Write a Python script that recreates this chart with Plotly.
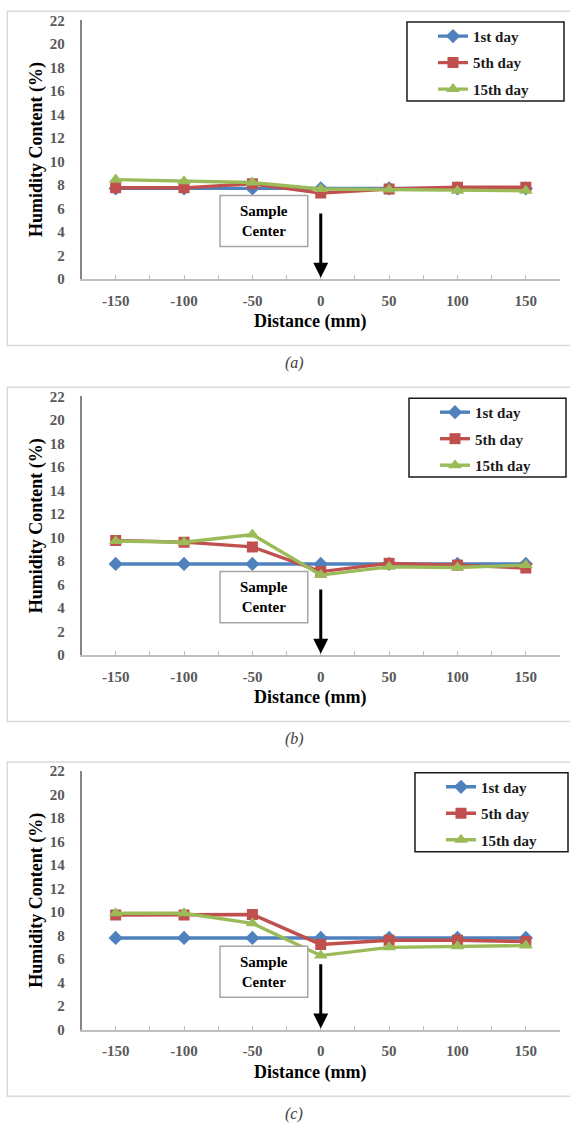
import plotly.graph_objects as go

# ---------------- data ----------------
distance = [-150, -100, -50, 0, 50, 100, 150]
series_names = ["1st day", "5th day", "15th day"]
panel_labels = ["(a)", "(b)", "(c)"]

a_day1 = [7.7, 7.7, 7.7, 7.7, 7.7, 7.7, 7.7]
a_day5 = [7.75, 7.75, 8.1, 7.3, 7.65, 7.8, 7.8]
a_day15 = [8.45, 8.3, 8.2, 7.65, 7.6, 7.5, 7.5]

b_day1 = [7.75, 7.75, 7.75, 7.75, 7.75, 7.75, 7.75]
b_day5 = [9.75, 9.6, 9.2, 7.1, 7.8, 7.65, 7.4]
b_day15 = [9.7, 9.6, 10.25, 6.8, 7.5, 7.45, 7.65]

c_day1 = [7.8, 7.8, 7.8, 7.8, 7.8, 7.8, 7.8]
c_day5 = [9.75, 9.75, 9.8, 7.25, 7.6, 7.6, 7.5]
c_day15 = [9.9, 9.9, 9.05, 6.3, 7.0, 7.1, 7.15]

y_ticks = list(range(0, 23, 2))
x_ticks = [-150, -100, -50, 0, 50, 100, 150]
x_ticktext = ["-150", "-100", "-50", "0", "50", "100", "150"]

panels = [
    [a_day1, a_day5, a_day15],
    [b_day1, b_day5, b_day15],
    [c_day1, c_day5, c_day15],
]

# ---------------- styling ----------------
W, H = 570, 1131
FONT = "Liberation Serif"
colors = ["#4F81BD", "#C0504D", "#9BBB59"]
symbols = ["diamond", "square", "triangle-up"]
msizes = [11, 11, 12]


def xp(px):
    return px / W


def yp(py):
    return 1 - py / H


# pixel geometry of each panel
panel_off = [0.0, 381.5, 761.5]
AX_TOP, AX_BOT = 12.5, 274.8
X_LEFT, X_RIGHT = 81.5, 560.0
legend_dx = [0, 2, 8]

fig = go.Figure()

for i, series in enumerate(panels):
    sfx = "" if i == 0 else str(i + 1)
    leg = "legend" + sfx
    for j, vals in enumerate(series):
        fig.add_trace(go.Scatter(
            x=distance, y=vals, name=series_names[j],
            mode="lines+markers",
            line=dict(color=colors[j], width=3.4),
            marker=dict(symbol=symbols[j], size=msizes[j], color=colors[j]),
            xaxis="x" + sfx, yaxis="y" + sfx,
            legend=leg, legendgroup=f"{i}-{j}",
        ))

shapes = []
annotations = []
for i in range(3):
    off = panel_off[i]
    sfx = "" if i == 0 else str(i + 1)
    top = off + AX_TOP
    bot = off + AX_BOT
    xa = dict(
        domain=[xp(X_LEFT), xp(X_RIGHT)],
        range=[-175, 175],
        anchor="y" + sfx,
        tickmode="array", tickvals=x_ticks, ticktext=x_ticktext,
        ticks="inside", ticklen=4, tickcolor="#bfbfbf", tickwidth=1,
        minor=dict(tickmode="array", tickvals=[-175, -125, -75, -25, 25, 75, 125, 175],
                   ticks="inside", ticklen=4, tickcolor="#bfbfbf", tickwidth=1),
        showline=True, linecolor="#bfbfbf", linewidth=1.5,
        showgrid=False, zeroline=False,
        tickfont=dict(family=FONT, size=15, color="#595959", weight="bold"),
        ticklabelstandoff=7,
        fixedrange=True,
    )
    ya = dict(
        domain=[yp(bot), yp(top)],
        range=[0, 22],
        anchor="x" + sfx,
        tickmode="array", tickvals=y_ticks,
        ticks="",
        showline=True, linecolor="#868686", linewidth=1.5,
        showgrid=False, zeroline=False,
        tickfont=dict(family=FONT, size=15, color="#595959", weight="bold"),
        ticklabelstandoff=12,
        title=dict(text="Humidity Content (%)", standoff=2,
                   font=dict(family=FONT, size=18, color="black", weight="bold")),
        fixedrange=True,
    )
    fig.update_layout({"xaxis" + sfx: xa, "yaxis" + sfx: ya})

    # x-axis title
    annotations.append(dict(
        text="<b>Distance (mm)</b>", xref="paper", yref="paper",
        x=xp(310), y=yp(off + 318.3), showarrow=False,
        xanchor="center", yanchor="middle",
        font=dict(family=FONT, size=18, color="black"),
    ))
    # panel frame
    shapes.append(dict(type="rect", xref="paper", yref="paper",
                       x0=xp(7.3), x1=xp(590), y0=yp(off + 3.3), y1=yp(off + 342.3),
                       line=dict(color="#d9d9d9", width=1.5), fillcolor="rgba(0,0,0,0)",
                       layer="below"))
    # legend border
    dx = legend_dx[i]
    shapes.append(dict(type="rect", xref="paper", yref="paper",
                       x0=xp(407 + dx), x1=xp(564 + min(dx, 4)), y0=yp(off + 14.3), y1=yp(off + 94.3),
                       line=dict(color="#1a1a1a", width=1.5), fillcolor="rgba(0,0,0,0)"))
    # Sample center box
    shapes.append(dict(type="rect", xref="x" + sfx, yref="y" + sfx,
                       x0=-73.7, x1=-9.5, y0=2.75, y1=7.1,
                       line=dict(color="#a6a6a6", width=1.5), fillcolor="white",
                       layer="above"))
    annotations.append(dict(
        text="<b>Sample<br>Center</b>", xref="x" + sfx, yref="y" + sfx,
        x=-41.6, y=4.93, showarrow=False, xanchor="center", yanchor="middle",
        font=dict(family=FONT, size=15, color="black"),
    ))
    # arrow to sample center
    annotations.append(dict(
        text="", xref="x" + sfx, yref="y" + sfx, x=0, y=0.1,
        axref="x" + sfx, ayref="y" + sfx, ax=0, ay=5.7,
        showarrow=True, arrowhead=2, arrowsize=1, arrowwidth=3,
        arrowcolor="black", standoff=0,
    ))
    # caption
    annotations.append(dict(
        text="<i>" + panel_labels[i] + "</i>", xref="paper", yref="paper",
        x=xp(294), y=yp(off + 360), showarrow=False,
        xanchor="center", yanchor="middle",
        font=dict(family=FONT, size=16, color="#404040"),
    ))
    # legend
    fig.update_layout({("legend" + sfx): dict(
        x=xp(433 + dx), y=yp(off + 12), xanchor="left", yanchor="top",
        bgcolor="rgba(0,0,0,0)", borderwidth=0,
        traceorder="grouped", tracegroupgap=4,
        font=dict(family=FONT, size=15, color="#1a1a1a", weight="bold"),
        itemclick=False, itemdoubleclick=False,
    )})

fig.update_layout(
    width=W, height=H,
    margin=dict(l=0, r=0, t=0, b=0),
    paper_bgcolor="white", plot_bgcolor="white",
    shapes=shapes, annotations=annotations,
    showlegend=True,
)

fig.write_html("out.html", config={"displayModeBar": False},
               post_script="document.body.style.margin='0';")
